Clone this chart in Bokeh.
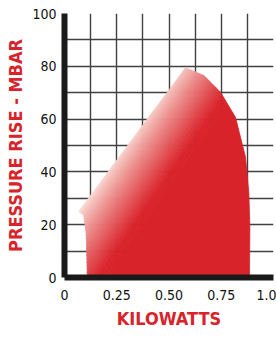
import numpy as np
from bokeh.plotting import figure
from bokeh.models import FixedTicker, Range1d
from bokeh.embed import file_html
from bokeh.resources import INLINE

# ---- data ----
kw = [0.109, 0.109, 0.104, 0.092, 0.068, 0.579, 0.667, 0.746, 0.818, 0.866, 0.882, 0.887, 0.885]
mbar = [0.0, 2.0, 16.7, 23.5, 25.1, 79.4, 76.5, 70.2, 60.7, 45.6, 31.8, 19.1, 0.0]

x_ticks = [0, 0.25, 0.5, 0.75, 1.0]
x_tick_labels = ["0", "0.25", "0.50", "0.75", "1.0"]
y_ticks = [0, 20, 40, 60, 80, 100]
x_grid = [0, 0.125, 0.25, 0.375, 0.5, 0.625, 0.75, 0.875, 1.0]
y_grid = [0, 10, 20, 30, 40, 50, 60, 70, 80, 90, 100]

RED = "#d9232a"
FONT = "'DejaVu Sans Condensed', 'DejaVu Sans', sans-serif"

p = figure(width=276, height=338, output_backend="svg", toolbar_location=None,
           x_range=Range1d(0, 1.0), y_range=Range1d(0, 100),
           min_border_left=64, min_border_right=3, min_border_top=13, min_border_bottom=61)
p.outline_line_color = None
p.background_fill_color = "white"

# grid
p.xgrid.ticker = FixedTicker(ticks=x_grid)
p.ygrid.ticker = FixedTicker(ticks=y_grid)
for g in (p.xgrid, p.ygrid):
    g.grid_line_color = "#404040"
    g.grid_line_width = 1.4

# ---- gradient-filled region: strips clipped from the outline ----
def clip_half(poly, a, b, c):
    out = []
    n = len(poly)
    for i in range(n):
        P = poly[i]; Q = poly[(i + 1) % n]
        fp = a * P[0] + b * P[1] + c
        fq = a * Q[0] + b * Q[1] + c
        if fp >= 0:
            out.append(P)
        if fp * fq < 0:
            t = fp / (fp - fq)
            out.append((P[0] + t * (Q[0] - P[0]), P[1] + t * (Q[1] - P[1])))
    return out

poly = list(zip(kw, mbar))
nx, ny = 0.82, 0.57
nrm = (nx * nx + ny * ny) ** 0.5
nx, ny = nx / nrm, ny / nrm
ax, by = nx * 209.0, -ny * 2.64   # d = ax*x + by*y  (screen-pixel distance)
dvals = [ax * x + by * y for x, y in poly]
dmin, dmax = min(dvals), max(dvals)

light = np.array([251, 228, 220])
red = np.array([217, 35, 42])
edges = list(np.arange(0, 61, 2.0)) + [dmax - dmin + 1]
xs, ys, cols = [], [], []
for lo, hi in zip(edges[:-1], edges[1:]):
    part = clip_half(poly, ax, by, -(dmin + lo))
    part = clip_half(part, -ax, -by, (dmin + hi))
    if len(part) < 3:
        continue
    mid = (lo + hi) / 2 if hi < 200 else 200
    t = min(max(mid / 54.0, 0), 1) ** 0.8
    c = (light * (1 - t) + red * t).round().astype(int)
    xs.append([q[0] for q in part]); ys.append([q[1] for q in part])
    cols.append("#%02x%02x%02x" % tuple(c))

p.patches(xs, ys, fill_color=cols, line_color=cols, line_width=0.8)

# ---- axes ----
p.xaxis.ticker = FixedTicker(ticks=x_ticks)
p.xaxis.major_label_overrides = {t: l for t, l in zip(x_ticks, x_tick_labels)}
p.yaxis.ticker = FixedTicker(ticks=y_ticks)

for ax_ in (p.xaxis, p.yaxis):
    ax_.axis_line_color = "#1a1a1a"
    ax_.axis_line_width = 6
    ax_.major_tick_line_color = None
    ax_.minor_tick_line_color = None
    ax_.major_tick_out = 0
    ax_.major_tick_in = 0
    ax_.major_label_text_font = FONT
    ax_.major_label_text_font_size = "14px"
    ax_.major_label_text_color = "#111111"
    ax_.axis_label_text_font = FONT
    ax_.axis_label_text_font_size = "18px"
    ax_.axis_label_text_font_style = "bold"
    ax_.axis_label_text_color = RED

p.xaxis.axis_label = "KILOWATTS"
p.yaxis.axis_label = "PRESSURE RISE - MBAR"
p.xaxis.major_label_standoff = 12
p.yaxis.major_label_standoff = 8
p.xaxis.axis_label_standoff = 5
p.yaxis.axis_label_standoff = 3

open("out.html", "w").write(file_html(p, INLINE))
